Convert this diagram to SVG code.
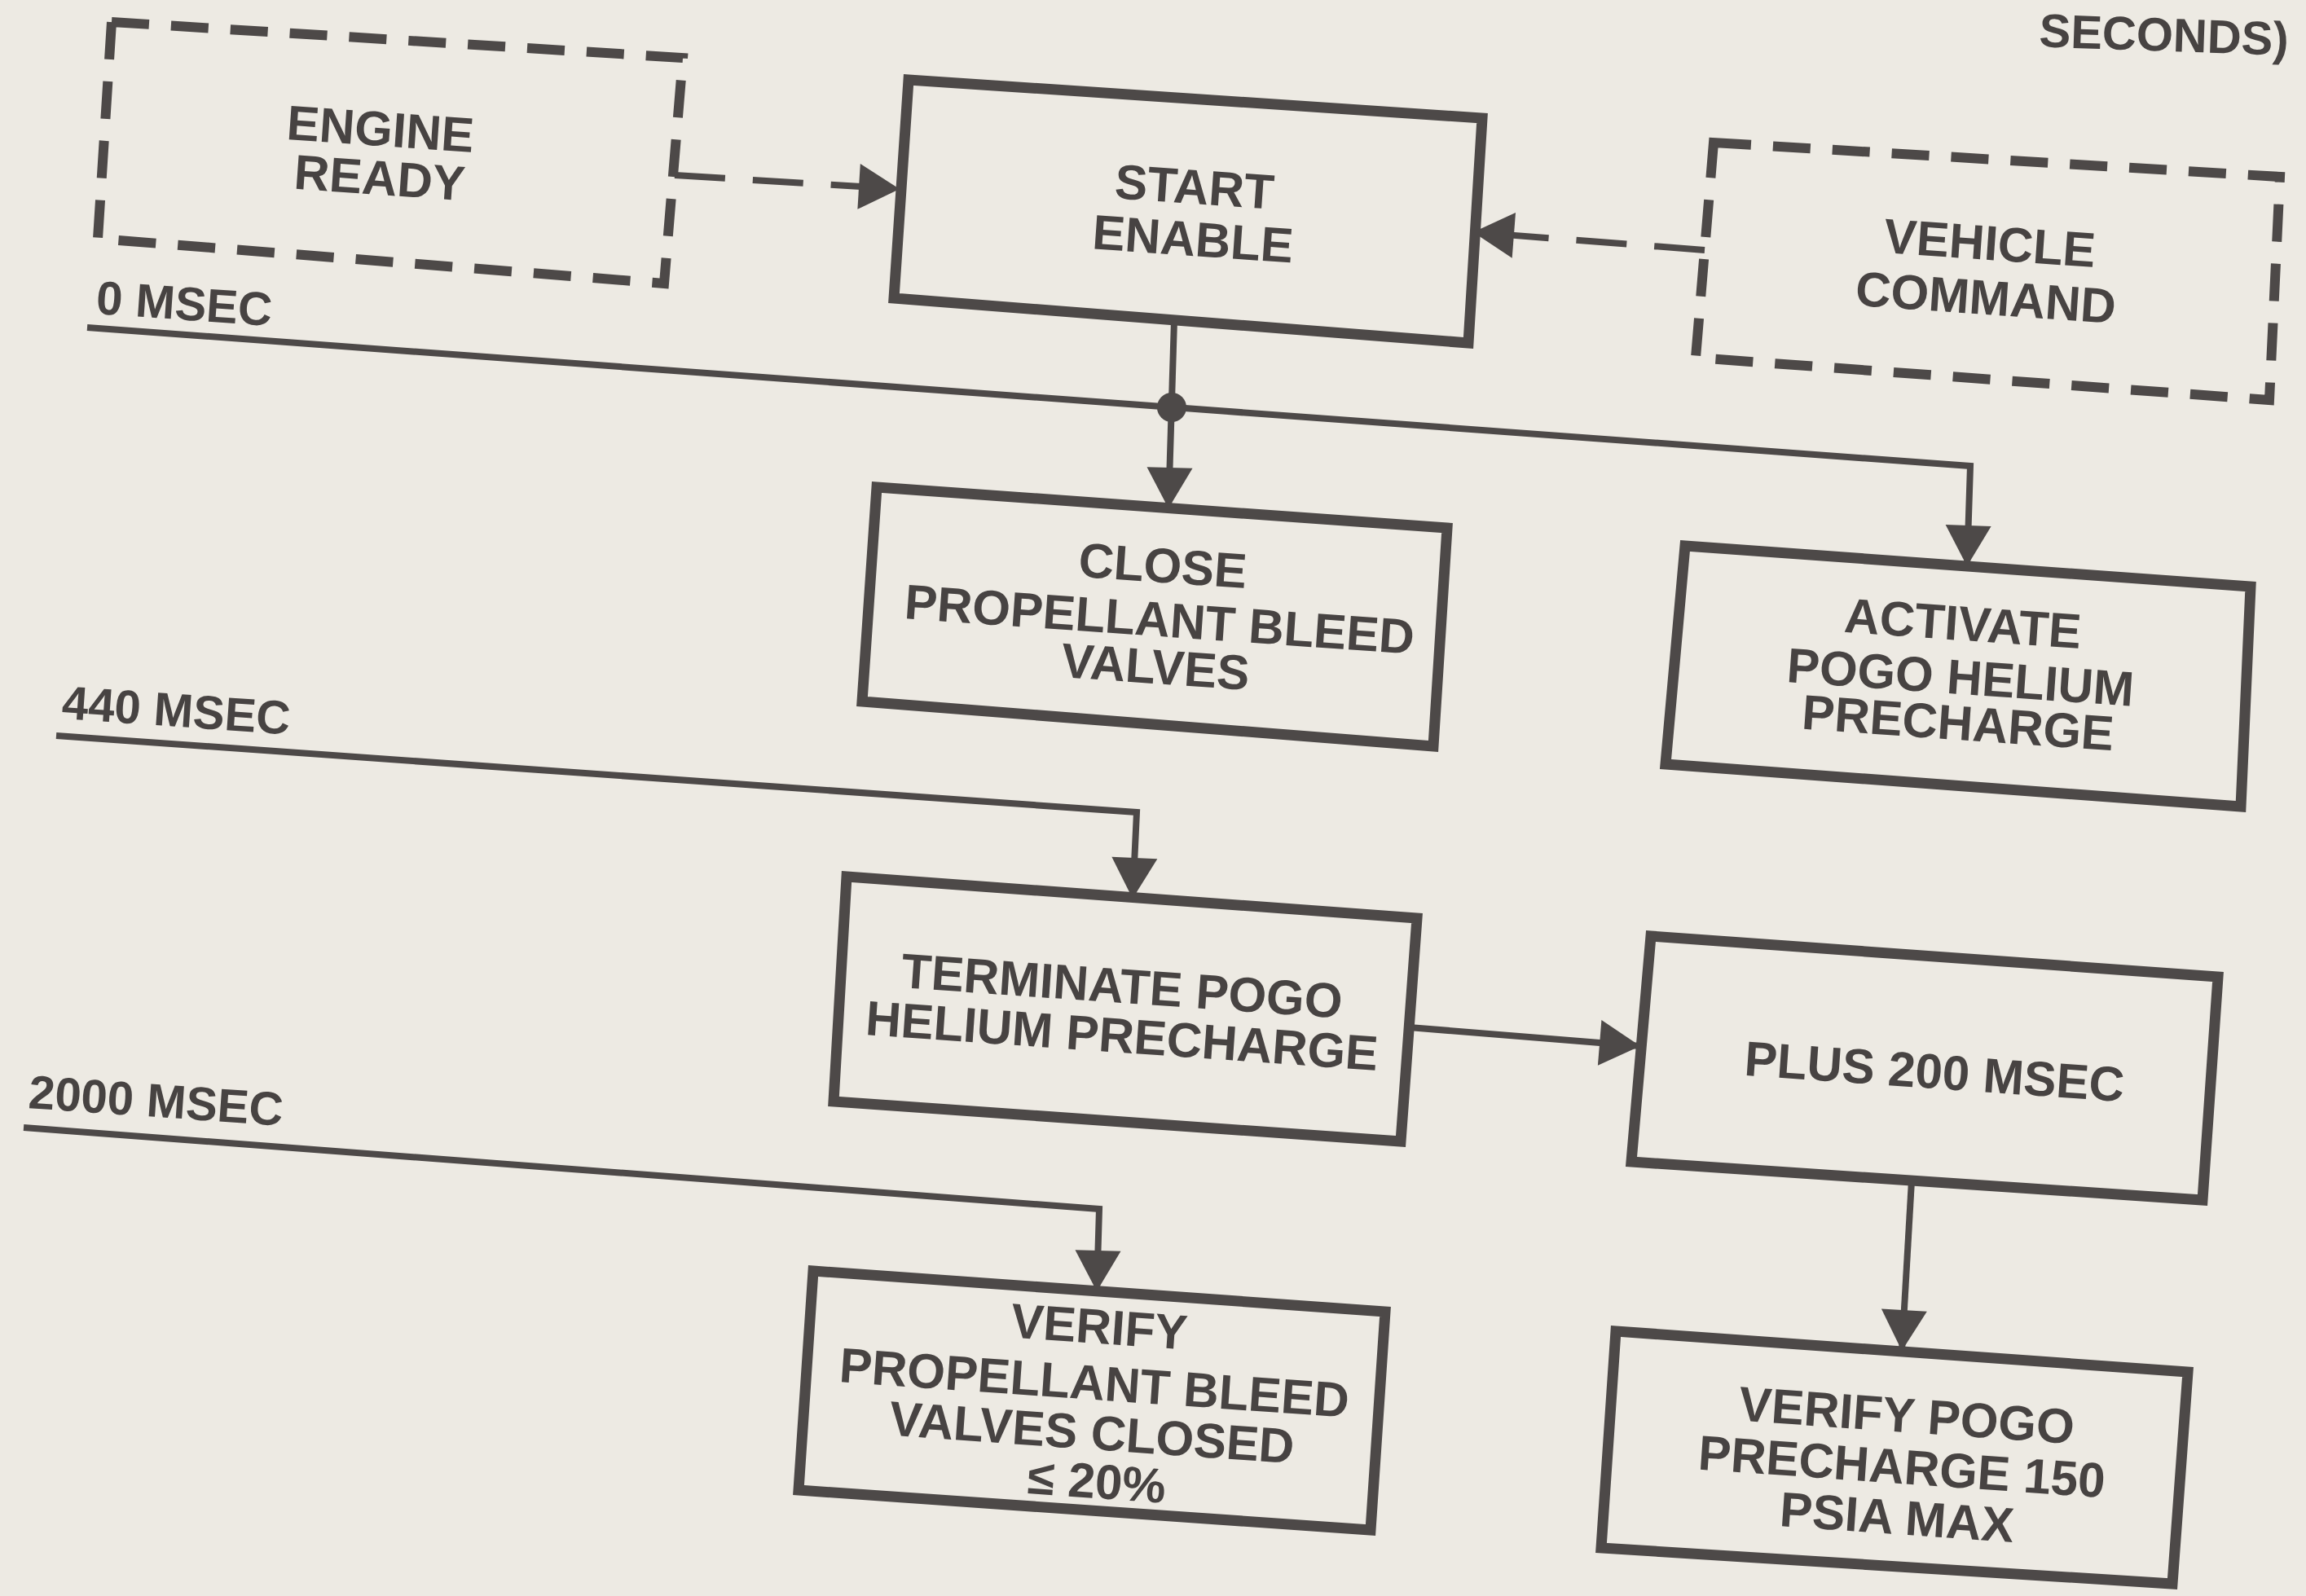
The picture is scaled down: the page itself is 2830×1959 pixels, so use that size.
<svg xmlns="http://www.w3.org/2000/svg" width="2830" height="1959" viewBox="0 0 2830 1959">
<style>
.bg{fill:#edeae3}
.box{fill:none;stroke:#4d4948;stroke-width:13;stroke-linejoin:miter}
.dbox{fill:none;stroke:#4d4948;stroke-width:12;stroke-dasharray:46 27}
.ln{fill:none;stroke:#4d4948;stroke-width:8}
.dln{fill:none;stroke:#4d4948;stroke-width:8;stroke-dasharray:62 34}
.t{font-family:"Liberation Sans",Arial,sans-serif;font-weight:bold;font-size:60px;fill:#474342;text-anchor:middle}
.lbl{font-family:"Liberation Sans",Arial,sans-serif;font-weight:bold;font-size:58px;fill:#474342}
</style>
<defs>
<marker id="ah" markerUnits="userSpaceOnUse" markerWidth="60" markerHeight="60" viewBox="0 -30 52 60" refX="50" refY="0" orient="auto">
<path d="M0,-28 L50,0 L0,28 Z" fill="#4d4948"/>
</marker>
</defs>
<rect class="bg" x="0" y="0" width="2830" height="1959"/>
<text class="lbl" x="2808" y="68" text-anchor="end" font-size="46" transform="rotate(2 2808 68)">SECONDS)</text>

<g id="connectors">
<path class="dln" d="M828,215 L1104,232" marker-end="url(#ah)"/>
<path class="dln" d="M2092,307 L1808,285" marker-end="url(#ah)"/>
<path class="ln" d="M1441,393 L1434,624" marker-end="url(#ah)"/>
<path class="ln" d="M107,402 L2418,572 L2414,695" marker-end="url(#ah)"/>
<circle cx="1438" cy="500" r="18" fill="#4d4948"/>
<path class="ln" d="M69,903 L1395,997 L1390,1103" marker-end="url(#ah)"/>
<path class="ln" d="M29,1384 L1349,1484 L1346,1585" marker-end="url(#ah)"/>
<path class="ln" d="M1729,1261 L2013,1284" marker-end="url(#ah)"/>
<path class="ln" d="M2346,1449 L2334,1658" marker-end="url(#ah)"/>
</g>

<g id="label-0msec"><text class="lbl" x="117" y="385" transform="rotate(4 117 385)">0 MSEC</text></g>
<g id="label-440msec"><text class="lbl" x="75" y="882" transform="rotate(4 75 882)">440 MSEC</text></g>
<g id="label-2000msec"><text class="lbl" x="34" y="1360" transform="rotate(4 34 1360)">2000 MSEC</text></g>

<g id="engine-ready">
<polygon class="dbox" points="137,27 838,71 815,348 120,293"/>
<text class="t" x="467" y="179" transform="rotate(4 467 158)">ENGINE</text>
<text class="t" x="466" y="239" transform="rotate(4 466 218)">READY</text>
</g>

<g id="start-enable">
<polygon class="box" points="1115,98 1819,145 1802,421 1097,366"/>
<text class="t" x="1466" y="250" transform="rotate(4 1466 229)">START</text>
<text class="t" x="1464" y="314" transform="rotate(4 1464 293)">ENABLE</text>
</g>

<g id="vehicle-command">
<polygon class="dbox" points="2103,175 2798,217 2785,491 2081,439"/>
<text class="t" x="2442" y="319" transform="rotate(4 2442 298)">VEHICLE</text>
<text class="t" x="2437" y="386" transform="rotate(4 2437 365)">COMMAND</text>
</g>

<g id="close-bleed">
<polygon class="box" points="1076,598 1776,648 1759,916 1058,861"/>
<text class="t" x="1427" y="715" transform="rotate(4 1427 694)">CLOSE</text>
<text class="t" x="1423" y="781" transform="rotate(4 1423 760)">PROPELLANT BLEED</text>
<text class="t" x="1418" y="839" transform="rotate(4 1418 818)">VALVES</text>
</g>

<g id="activate-pogo">
<polygon class="box" points="2068,670 2762,720 2750,990 2044,938"/>
<text class="t" x="2409" y="786" transform="rotate(4 2409 765)">ACTIVATE</text>
<text class="t" x="2406" y="852" transform="rotate(4 2406 831)">POGO HELIUM</text>
<text class="t" x="2403" y="908" transform="rotate(4 2403 887)">PRECHARGE</text>
</g>

<g id="terminate-pogo">
<polygon class="box" points="1039,1076 1739,1127 1719,1401 1023,1352"/>
<text class="t" x="1377" y="1231" transform="rotate(4 1377 1210)">TERMINATE POGO</text>
<text class="t" x="1377" y="1292" transform="rotate(4 1377 1271)">HELIUM PRECHARGE</text>
</g>

<g id="plus-200">
<polygon class="box" points="2026,1149 2722,1199 2703,1473 2002,1426"/>
<text class="t" x="2374" y="1336" transform="rotate(4 2374 1315)">PLUS 200 MSEC</text>
</g>

<g id="verify-pogo">
<polygon class="box" points="1983,1634 2685,1684 2666,1944 1965,1900"/>
<text class="t" x="2340" y="1758" transform="rotate(4 2340 1737)">VERIFY POGO</text>
<text class="t" x="2334" y="1821" transform="rotate(4 2334 1800)">PRECHARGE 150</text>
<text class="t" x="2328" y="1883" transform="rotate(4 2328 1862)">PSIA MAX</text>
</g>

<g id="verify-bleed">
<polygon class="box" points="998,1560 1700,1610 1682,1878 980,1829"/>
<text class="t" x="1349" y="1649" transform="rotate(4 1349 1628)">VERIFY</text>
<text class="t" x="1343" y="1718" transform="rotate(4 1343 1697)">PROPELLANT BLEED</text>
<text class="t" x="1340" y="1779" transform="rotate(4 1340 1758)">VALVES CLOSED</text>
<text class="t" x="1346" y="1839" transform="rotate(4 1346 1818)">≤ 20%</text>
</g>
</svg>
